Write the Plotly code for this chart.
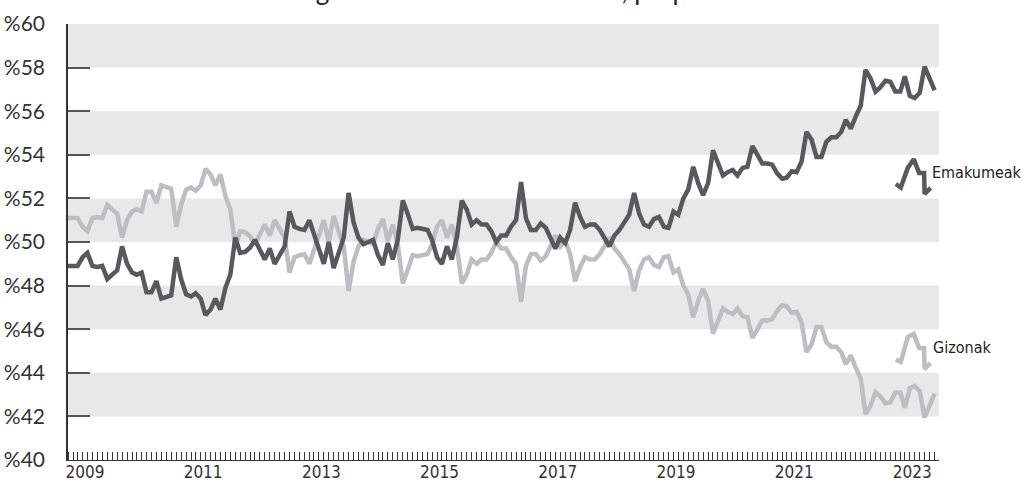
import pandas as pd
import plotly.graph_objects as go

# hileko datuak, 2009-01 .. 2023-09
emakumeak = [
    48.9, 48.9, 48.9, 49.3, 49.5, 48.9, 48.85, 48.9, 48.3, 48.5,
    48.7, 49.8, 49.0, 48.6, 48.5, 48.6, 47.7, 47.7, 48.2, 47.4,
    47.5, 47.55, 49.3, 48.3, 47.6, 47.5, 47.65, 47.4, 46.65, 46.9,
    47.4, 46.9, 47.9, 48.5, 50.2, 49.5, 49.55, 49.75, 50.1, 49.6,
    49.2, 49.7, 49.0, 49.4, 49.8, 51.4, 50.7, 50.6, 50.55, 51.0,
    50.4, 49.6, 49.0, 50.0, 48.8, 49.5, 50.2, 52.25, 50.9, 50.2,
    49.9, 50.0, 50.1, 49.4, 48.95, 49.95, 49.2, 50.1, 51.9, 51.3,
    50.6, 50.65, 50.6, 50.55, 50.1, 49.3, 49.0, 49.8, 49.2, 50.2,
    51.9, 51.5, 50.8, 51.0, 50.8, 50.8, 50.5, 50.0, 50.3, 50.3,
    50.7, 51.0, 52.75, 51.1, 50.55, 50.55, 50.85, 50.65, 50.2, 49.7,
    50.2, 49.95, 50.55, 51.8, 51.15, 50.7, 50.8, 50.8, 50.55, 50.1,
    49.8, 50.3, 50.55, 50.9, 51.25, 52.25, 51.3, 50.8, 50.7, 51.05,
    51.15, 50.7, 50.65, 51.4, 51.25, 52.0, 52.4, 53.45, 52.7, 52.15,
    52.7, 54.2, 53.6, 53.05, 53.2, 53.3, 53.05, 53.4, 53.45, 54.4,
    54.0, 53.6, 53.6, 53.55, 53.15, 52.9, 52.95, 53.25, 53.2, 53.7,
    55.05, 54.7, 53.9, 53.9, 54.6, 54.8, 54.8, 55.05, 55.6, 55.2,
    55.75, 56.25, 57.9, 57.5, 56.9, 57.1, 57.4, 57.35, 56.9, 56.9,
    57.6, 56.7, 56.6, 56.85, 58.05, 57.55, 56.95,
]
gizonak = [
    51.1, 51.1, 51.1, 50.7, 50.5, 51.1, 51.15, 51.1, 51.7, 51.5,
    51.3, 50.2, 51.0, 51.4, 51.5, 51.4, 52.3, 52.3, 51.8, 52.6,
    52.5, 52.45, 50.7, 51.7, 52.4, 52.5, 52.35, 52.6, 53.35, 53.1,
    52.6, 53.1, 52.1, 51.5, 49.8, 50.5, 50.45, 50.25, 49.9, 50.4,
    50.8, 50.3, 51.0, 50.6, 50.2, 48.6, 49.3, 49.4, 49.45, 49.0,
    49.6, 50.4, 51.0, 50.0, 51.2, 50.5, 49.8, 47.75, 49.1, 49.8,
    50.1, 50.0, 49.9, 50.6, 51.05, 50.05, 50.8, 49.9, 48.1, 48.7,
    49.4, 49.35, 49.4, 49.45, 49.9, 50.7, 51.0, 50.2, 50.8, 49.8,
    48.1, 48.5, 49.2, 49.0, 49.2, 49.2, 49.5, 50.0, 49.7, 49.7,
    49.3, 49.0, 47.25, 48.9, 49.45, 49.45, 49.15, 49.35, 49.8, 50.3,
    49.8, 50.05, 49.45, 48.2, 48.85, 49.3, 49.2, 49.2, 49.45, 49.9,
    50.2, 49.7, 49.45, 49.1, 48.75, 47.75, 48.7, 49.2, 49.3, 48.95,
    48.85, 49.3, 49.35, 48.6, 48.75, 48.0, 47.6, 46.55, 47.3, 47.85,
    47.3, 45.8, 46.4, 46.95, 46.8, 46.7, 46.95, 46.6, 46.55, 45.6,
    46.0, 46.4, 46.4, 46.45, 46.85, 47.1, 47.05, 46.75, 46.8, 46.3,
    44.95, 45.3, 46.1, 46.1, 45.4, 45.2, 45.2, 44.95, 44.4, 44.8,
    44.25, 43.75, 42.1, 42.5, 43.1, 42.9, 42.6, 42.65, 43.1, 43.1,
    42.4, 43.3, 43.4, 43.15, 41.95, 42.45, 43.05,
]
hilabeteak = pd.date_range("2009-01-01", periods=len(emakumeak), freq="MS")

urteak = ["2009", "2011", "2013", "2015", "2017", "2019", "2021", "2023"]
y_ticks = [40, 42, 44, 46, 48, 50, 52, 54, 56, 58, 60]
banda_behe = [42, 46, 50, 54, 58]

# legendako ikonoak (marra txikiak etiketen ondoan)
ikono_x = ["2023-01-04", "2023-02-04", "2023-03-19", "2023-04-25",
           "2023-05-28", "2023-06-28", "2023-07-01", "2023-08-07"]
ikono_emak = [52.66, 52.5, 53.4, 53.8, 53.17, 53.17, 52.2, 52.48]
ikono_giz = [44.59, 44.5, 45.64, 45.78, 45.14, 45.14, 44.17, 44.45]

ILUN = "#58595B"
ARGI = "#BCBEC0"
BANDA = "#E8E8E8"
TXT = "#333333"
NARROW = "DejaVu Sans Condensed, Liberation Sans Narrow, Arial Narrow, sans-serif"

fig = go.Figure()

for lo in banda_behe:
    fig.add_shape(type="rect", xref="paper", yref="y", x0=0, x1=1, y0=lo, y1=lo + 2,
                  fillcolor=BANDA, line_width=0, layer="below")

fig.add_trace(go.Scatter(x=hilabeteak, y=gizonak, mode="lines", name="Gizonak",
                         line=dict(color=ARGI, width=4.5)))
fig.add_trace(go.Scatter(x=hilabeteak, y=emakumeak, mode="lines", name="Emakumeak",
                         line=dict(color=ILUN, width=4.5)))
fig.add_trace(go.Scatter(x=pd.to_datetime(ikono_x), y=ikono_giz, mode="lines",
                         line=dict(color=ARGI, width=4.5), showlegend=False))
fig.add_trace(go.Scatter(x=pd.to_datetime(ikono_x), y=ikono_emak, mode="lines",
                         line=dict(color=ILUN, width=4.5), showlegend=False))

fig.add_annotation(x="2023-08-01", y=53.2, xref="x", yref="y", text="Emakumeak",
                   showarrow=False, xanchor="left", yanchor="middle",
                   font=dict(family=NARROW, size=16, color="#222"))
fig.add_annotation(x="2023-08-10", y=45.14, xref="x", yref="y", text="Gizonak",
                   showarrow=False, xanchor="left", yanchor="middle",
                   font=dict(family=NARROW, size=16, color="#222"))

# goiko izenburua, ia osorik moztuta
fig.add_annotation(x=0.52, y=1, xref="paper", yref="paper", yanchor="bottom", yshift=16,
                   text="Langabetuak sexuaren arabera, proportzioa", showarrow=False,
                   font=dict(family="Lato", size=26, color="#222"))

fig.update_layout(
    width=1023, height=482,
    margin=dict(l=68, r=84, t=24, b=22),
    plot_bgcolor="white", paper_bgcolor="white",
    showlegend=False,
    xaxis=dict(
        type="date", automargin=False,
        range=["2009-01-01", "2023-09-28"],
        showgrid=False, zeroline=False,
        showline=True, linecolor="#333", linewidth=1,
        tickvals=[u + "-04-16" for u in urteak], ticktext=urteak,
        ticks="", ticklen=0, ticklabelstandoff=-3,
        tickfont=dict(family=NARROW, size=17, color=TXT),
        minor=dict(dtick="M1", tick0="2009-01-01", ticks="inside", ticklen=8,
                   tickcolor="#333", tickwidth=1, showgrid=False),
    ),
    yaxis=dict(
        range=[40, 60], automargin=False,
        showgrid=False, zeroline=False,
        showline=True, linecolor="#333", linewidth=1.5,
        tickvals=y_ticks, ticktext=["%" + str(v) for v in y_ticks],
        ticks="inside", ticklen=22, tickcolor="#555", tickwidth=1.5,
        ticklabelstandoff=17,
        tickfont=dict(family="Lato", size=21, color=TXT),
    ),
)

fig.write_html("out.html", config={"displayModeBar": False},
               post_script="document.body.style.margin='0';")
